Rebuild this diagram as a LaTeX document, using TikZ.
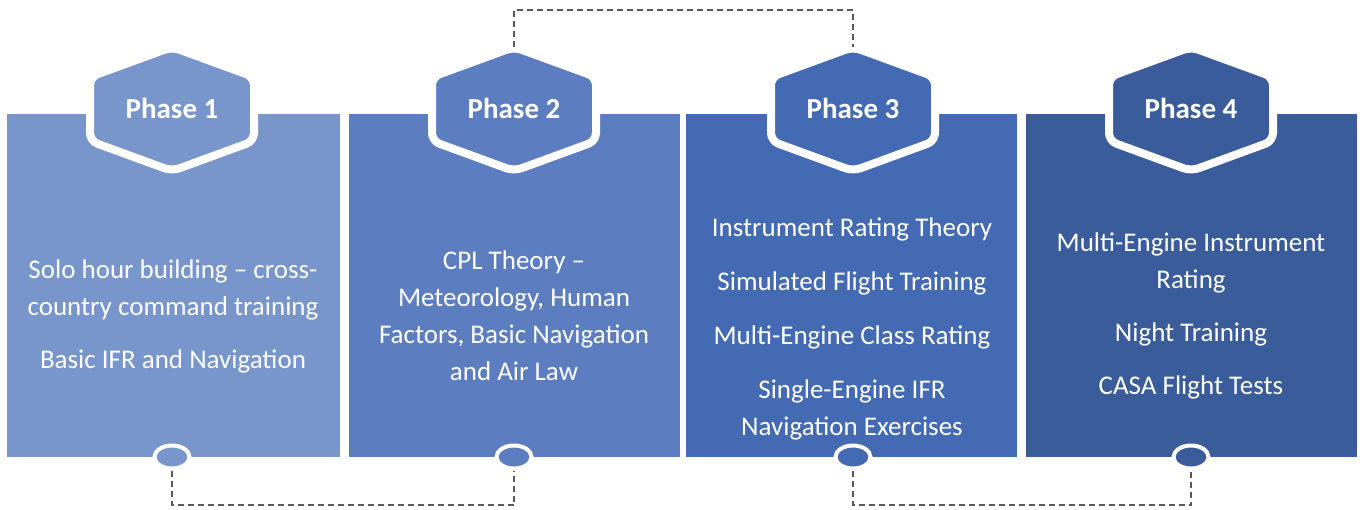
\documentclass[tikz,border=0pt]{standalone}
\usepackage{fontspec}
\setmainfont{Carlito}
\usetikzlibrary{shapes.geometric}
\definecolor{cA}{RGB}{120,150,203}
\definecolor{cB}{RGB}{92,126,192}
\definecolor{cC}{RGB}{67,106,178}
\definecolor{cD}{RGB}{58,92,154}
\definecolor{linkgray}{RGB}{89,89,89}
\begin{document}
\begin{tikzpicture}[x=1pt,y=-1pt,
  hexa/.style={fill=#1, draw=white, line width=8pt, rounded corners=8pt},
  phase/.style={text=white, inner sep=0pt, font=\fontsize{29}{32}\selectfont\bfseries},
  body/.style={text=white, align=center, inner sep=0pt, font=\fontsize{27}{37}\selectfont},
  dot/.style={ellipse, fill=#1, draw=white, line width=4pt, minimum width=35pt, minimum height=23pt, inner sep=0pt},
  link/.style={draw=linkgray, line width=2pt, dash pattern=on 6pt off 4pt}]
\useasboundingbox (0,0) rectangle (1363,509);
\coordinate (lowY) at (0,505);
\coordinate (highY) at (0,10);
% panels
\fill[cA] (7,114) rectangle (340,457);
\fill[cB] (349,114) rectangle (680,457);
\fill[cC] (686,114) rectangle (1017,457);
\fill[cD] (1026,114) rectangle (1357,457);
% hexagons, labels, dots
\foreach \cx/\col/\n in {172/cA/1, 514/cB/2, 853/cC/3, 1191/cD/4} {
  \path[hexa=\col] (\cx+41,62) -- (\cx+82,77) -- (\cx+82,141) -- (\cx,171)
     -- (\cx-82,141) -- (\cx-82,77) -- (\cx,47) -- cycle;
  \coordinate (ht\n) at (\cx,47);
  \node[phase] (ph\n) at (\cx,108) {Phase \n};
  \node[dot=\col] (d\n) at (\cx,457) {};
}
% body texts
\node[body] (t1) at (173,316) {Solo hour building – cross-\\country command training\\[16pt]Basic IFR and Navigation};
\node[body] (t2) at (514,316) {CPL Theory –\\Meteorology, Human\\Factors, Basic Navigation\\and Air Law};
\node[body] (t3) at (852,329) {Instrument Rating Theory\\[17pt]Simulated Flight Training\\[17pt]Multi-Engine Class Rating\\[17pt]Single-Engine IFR\\Navigation Exercises};
\node[body] (t4) at (1191,316) {Multi-Engine Instrument\\Rating\\[16pt]Night Training\\[16pt]CASA Flight Tests};
% connectors
\draw[link] (d1.south) -- (d1.south |- lowY) -| (d2.south);
\draw[link] (d3.south) -- (d3.south |- lowY) -| (d4.south);
\draw[link] (ht2) -- (ht2 |- highY) -| (ht3);
\end{tikzpicture}
\end{document}
